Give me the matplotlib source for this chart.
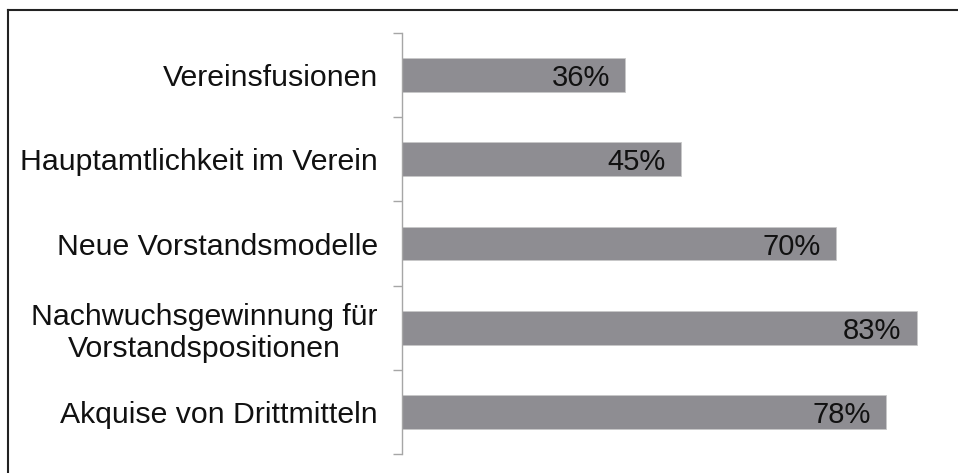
import matplotlib
matplotlib.use("Agg")
import matplotlib.pyplot as plt
from matplotlib.lines import Line2D

categories = ["Vereinsfusionen", "Hauptamtlichkeit im Verein", "Neue Vorstandsmodelle",
              "Nachwuchsgewinnung für\nVorstandspositionen", "Akquise von Drittmitteln"]
values = [36, 45, 70, 83, 78]
value_labels = ["36%", "45%", "70%", "83%", "78%"]

plt.rcParams['font.family'] = ['Liberation Sans', 'DejaVu Sans']

W, H = 958, 473
fig = plt.figure(figsize=(W / 100, H / 100), dpi=100)
ax = fig.add_axes([402 / W, 1 - 454 / H, (940 - 402) / W, (454 - 33) / H])

ypos = list(range(len(categories)))
bar_color = "#8e8d92"
ax.barh(ypos, values, height=0.4, color=bar_color, edgecolor="#c8c8c8", linewidth=0.6)
ax.set_xlim(0, 538 / 6.2)
ax.set_ylim(len(categories) - 0.5, -0.5)

for y, v, lab in zip(ypos, values, value_labels):
    ax.annotate(lab, xy=(v, y), xytext=(-15, 0), textcoords="offset pixels",
                ha="right", va="center_baseline", fontsize=21, color="#111111")

# ticks at category boundaries
ax.set_yticks([i - 0.5 for i in range(len(categories) + 1)])
ax.set_yticklabels([])
ax.set_yticks(ypos, minor=True)
ax.set_yticklabels(categories, minor=True, fontsize=21.8, color="#111111")
ax.tick_params(axis="y", which="minor", length=0, pad=17.3)
ax.tick_params(axis="y", which="major", length=6.5, width=1, color="#a6a6a6")
for lbl in ax.get_yticklabels(minor=True):
    lbl.set_multialignment("center")

ax.set_xticks([])
for s in ["top", "right", "bottom"]:
    ax.spines[s].set_visible(False)
ax.spines["left"].set_color("#a6a6a6")
ax.spines["left"].set_linewidth(1)

# outer frame (top and left visible)
fig.add_artist(Line2D([8 / W, 8 / W], [0, 1 - 10 / H], transform=fig.transFigure, color="#222222", lw=1.5))
fig.add_artist(Line2D([8 / W, 1], [1 - 10 / H, 1 - 10 / H], transform=fig.transFigure, color="#222222", lw=1.5))

fig.savefig("out.png", dpi=100)
